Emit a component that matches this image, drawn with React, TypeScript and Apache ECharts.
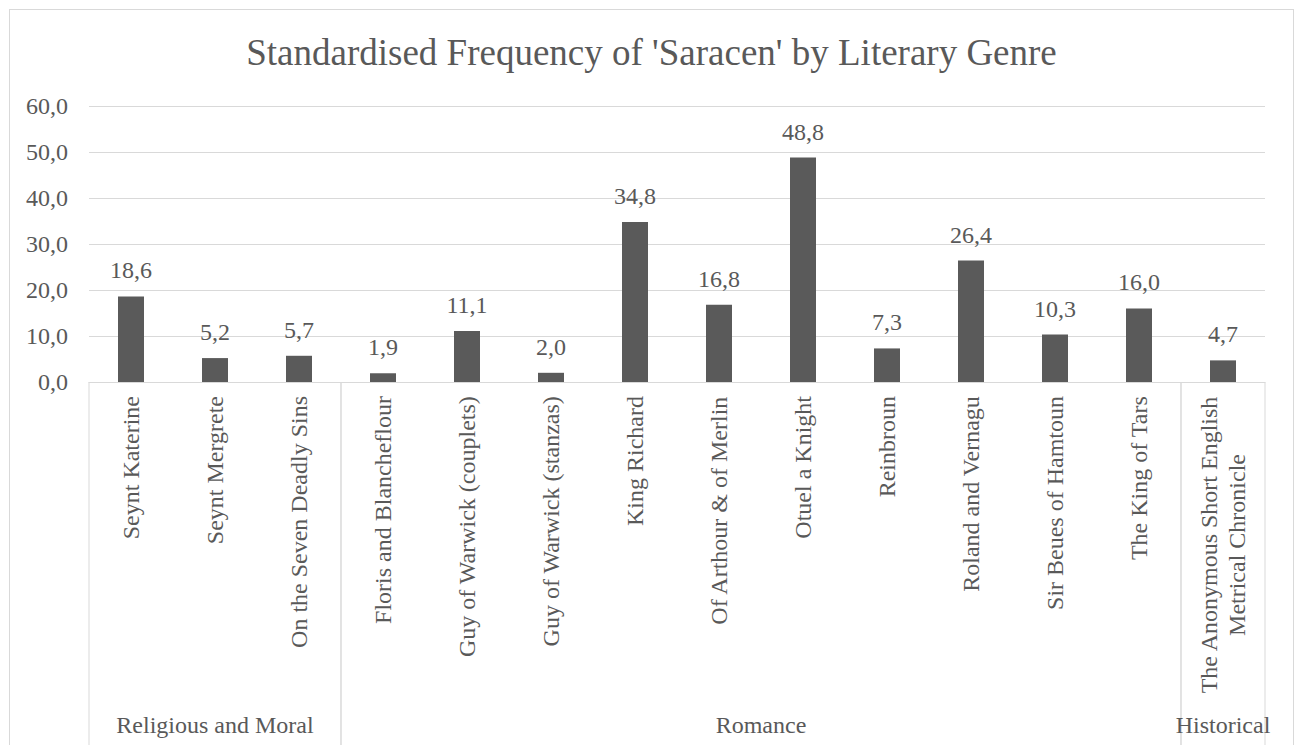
import React, { useEffect, useRef } from "react";
import * as echarts from "echarts";

const titleText = "Standardised Frequency of 'Saracen' by Literary Genre";

const works = [
  "Seynt Katerine",
  "Seynt Mergrete",
  "On the Seven Deadly Sins",
  "Floris and Blancheflour",
  "Guy of Warwick (couplets)",
  "Guy of Warwick (stanzas)",
  "King Richard",
  "Of Arthour & of Merlin",
  "Otuel a Knight",
  "Reinbroun",
  "Roland and Vernagu",
  "Sir Beues of Hamtoun",
  "The King of Tars",
  "The Anonymous Short English\nMetrical Chronicle",
];

const frequencies = [18.6, 5.2, 5.7, 1.9, 11.1, 2.0, 34.8, 16.8, 48.8, 7.3, 26.4, 10.3, 16.0, 4.7];

const genres = ["Religious and Moral", "Romance", "Historical"];
const genreFirst = [0, 3, 13];
const genreLast = [2, 12, 13];

const yMin = 0;
const yMax = 60;
const yStep = 10;

const FONT = "Liberation Serif, Times New Roman, serif";
const TEXT = "#595959";
const LINE = "#d9d9d9";

const comma = (v: number) => v.toFixed(1).replace(".", ",");

export default function App() {
  const ref = useRef<HTMLDivElement>(null);

  useEffect(() => {
    if (!ref.current) return;
    const chart = echarts.init(ref.current, null, { renderer: "svg" });

    chart.setOption({
      animation: false,
      backgroundColor: "#ffffff",
      textStyle: { fontFamily: FONT },
      title: {
        text: titleText,
        left: "center",
        top: 19,
        textStyle: { fontFamily: FONT, fontSize: 37, fontWeight: "normal", color: TEXT },
      },
      grid: { left: 79, top: 96, width: 1176, height: 276, containLabel: false },
      xAxis: {
        type: "category",
        data: works,
        axisLine: { show: true, lineStyle: { color: LINE, width: 1 } },
        axisTick: { show: false },
        splitLine: { show: false },
        axisLabel: {
          interval: 0,
          rotate: 90,
          margin: 14,
          fontFamily: FONT,
          fontSize: 24,
          color: TEXT,
          lineHeight: 28,
          formatter: (v: string) =>
            v
              .split("\n")
              .map((line) => `{c|${line}}`)
              .join("\n"),
          rich: {
            c: { align: "center", fontFamily: FONT, fontSize: 24, color: TEXT, lineHeight: 28 },
          },
        },
      },
      yAxis: {
        type: "value",
        min: yMin,
        max: yMax,
        interval: yStep,
        axisLine: { show: false },
        axisTick: { show: false },
        splitLine: { show: true, lineStyle: { color: LINE, width: 1 } },
        axisLabel: {
          margin: 21,
          fontFamily: FONT,
          fontSize: 24,
          color: TEXT,
          formatter: (v: number) => comma(v),
        },
      },
      series: [
        {
          type: "bar",
          data: frequencies,
          barWidth: 26,
          itemStyle: { color: "#5a5a5a" },
          label: {
            show: true,
            position: "top",
            distance: 14,
            fontFamily: FONT,
            fontSize: 24,
            color: TEXT,
            formatter: (p: any) => comma(p.value),
          },
        },
        {
          type: "custom",
          clip: false,
          silent: true,
          data: genres.map((g, i) => ({ name: g, value: [genreFirst[i], genreLast[i], 0] })),
          encode: { x: [0, 1], y: 2 },
          renderItem: (params: any, api: any) => {
            const first = api.value(0);
            const last = api.value(1);
            const band = api.size([1, 0])[0];
            const a = api.coord([first, 0]);
            const b = api.coord([last, 0]);
            const x0 = a[0] - band / 2;
            const x1 = b[0] + band / 2;
            const y0 = a[1];
            const bottom = api.getHeight();
            return {
              type: "group",
              children: [
                {
                  type: "line",
                  shape: { x1: x0, y1: y0, x2: x0, y2: bottom },
                  style: { stroke: LINE, lineWidth: 1 },
                },
                {
                  type: "line",
                  shape: { x1: x1, y1: y0, x2: x1, y2: bottom },
                  style: { stroke: LINE, lineWidth: 1 },
                },
                {
                  type: "text",
                  x: (x0 + x1) / 2,
                  y: bottom - 20,
                  style: {
                    text: genres[params.dataIndex],
                    fontFamily: FONT,
                    fontSize: 24,
                    fill: TEXT,
                    align: "center",
                    verticalAlign: "middle",
                  },
                },
              ],
            };
          },
        },
      ],
    });

    return () => chart.dispose();
  }, []);

  return (
    <div
      style={{
        position: "absolute",
        left: 9,
        top: 9,
        width: 1285,
        height: 736,
        boxSizing: "border-box",
        borderTop: `1px solid ${LINE}`,
        borderLeft: `1px solid ${LINE}`,
        borderRight: `1px solid ${LINE}`,
        background: "#ffffff",
      }}
    >
      <div ref={ref} style={{ width: 1283, height: 735 }} />
    </div>
  );
}
